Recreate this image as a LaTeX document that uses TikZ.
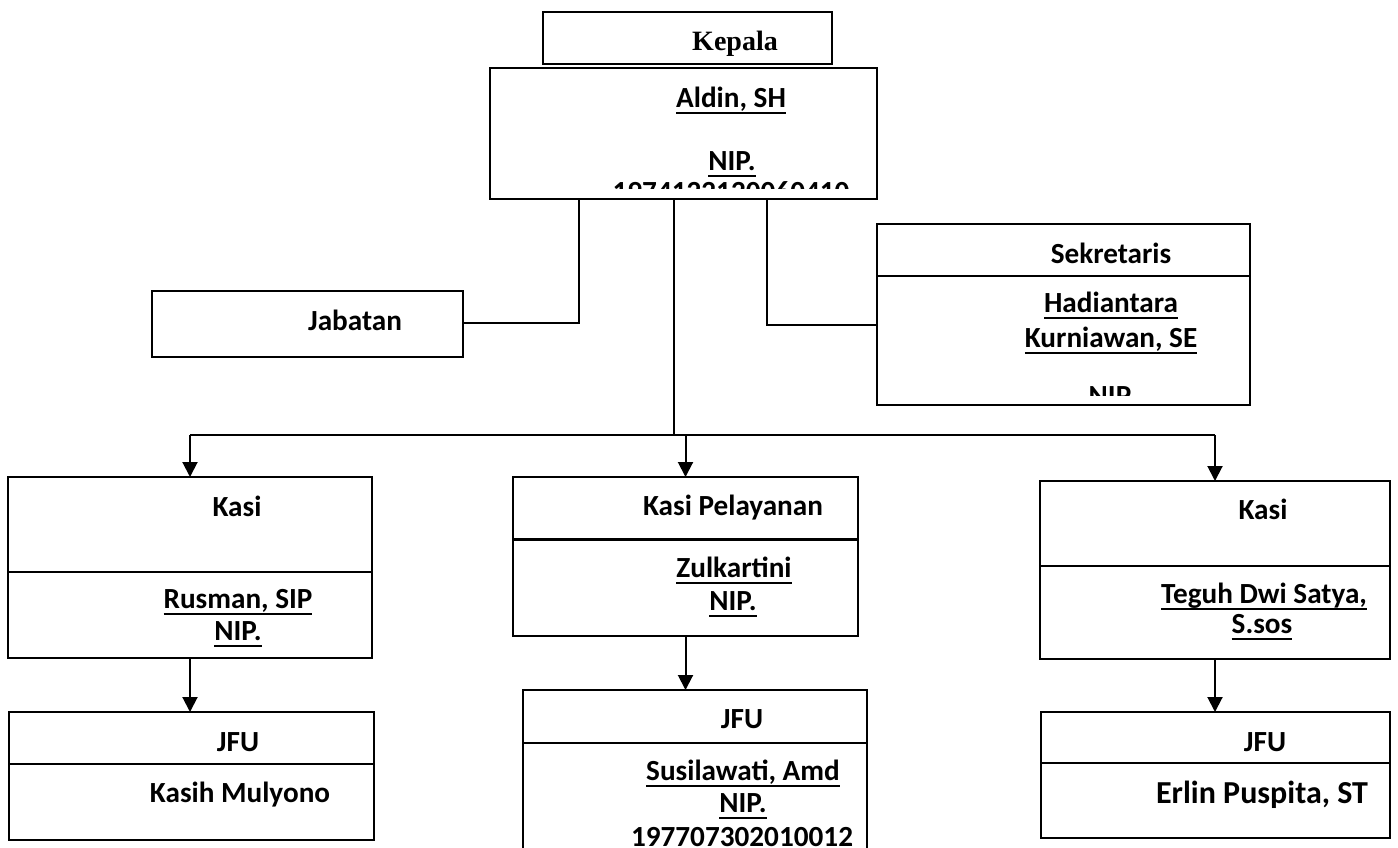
\documentclass[tikz,border=0pt]{standalone}
\usepackage{fontspec}
\setmainfont{Carlito}
\newfontfamily\timesfont{Liberation Serif}
\usetikzlibrary{arrows.meta}

% underline drawn under the name, like the word processor does
\newcommand\garisbawah[1]{\setbox0\hbox{#1}\rlap{\vrule height -2.4pt depth 3.6pt width \wd0}\box0}

% box from (x1,y1) to (x2,y2), in pixels of the page
\newcommand\kotakpx[5]{\node[kotak, minimum width={(#4-#2)*0.5pt}, minimum height={(#5-#3)*0.5pt}] (#1) at ({(#2+#4)/2},{(#3+#5)/2}) {};}

\tikzset{
  kotak/.style={draw, line width=1pt, inner sep=0pt, outer sep=0pt},
  teks/.style={font=\fontsize{14.6}{17}\selectfont\bfseries, inner sep=0pt, anchor=base},
  garis/.style={line width=1pt},
  panah/.style={line width=1pt, -{Triangle[width=7.5pt,length=7.5pt]}},
}

\begin{document}
\begin{tikzpicture}[x=0.5pt, y=-0.5pt]
		\useasboundingbox (0,0) rectangle (1398,847);
		\clip (0,0) rectangle (1398,847);

		% boxes
		\kotakpx{kepala}{543}{12}{832}{64}
		\kotakpx{aldin}{490}{68}{877}{199}
		\kotakpx{jabatan}{152}{291}{463}{357}
		\kotakpx{sek}{877}{224}{1250}{405}
		\kotakpx{kasiA}{8}{477}{372}{658}
		\kotakpx{kasiB}{513}{477}{858}{636}
		\kotakpx{kasiC}{1040}{481}{1390}{659}
		\kotakpx{jfuA}{9}{712}{374}{840}
		\kotakpx{jfuB}{523}{690}{867}{880}
		\kotakpx{jfuC}{1041}{712}{1390}{838}

		% dividers
		\draw[garis] (sek.west |- 0,276) -- (sek.east |- 0,276);
		\draw[garis] (kasiA.west |- 0,572) -- (kasiA.east |- 0,572);
		\draw[line width=1.5pt] (kasiB.west |- 0,539) -- (kasiB.east |- 0,539);
		\draw[garis] (kasiC.west |- 0,566) -- (kasiC.east |- 0,566);
		\draw[garis] (jfuA.west |- 0,764) -- (jfuA.east |- 0,764);
		\draw[garis] (jfuB.west |- 0,743) -- (jfuB.east |- 0,743);
		\draw[garis] (jfuC.west |- 0,763) -- (jfuC.east |- 0,763);

		% texts
		\node[teks, font=\fontsize{14}{17}\selectfont\timesfont\bfseries] (tKepala) at (735,50) {Kepala};
		\node[teks] (tAldin) at (731,107) {\garisbawah{Aldin, SH}};
		\node[teks] (tAldinNip) at (732,170) {\garisbawah{NIP.}};
		\begin{scope}
			\clip (490,68) rectangle (877,188);
			\node[teks] (tAldinNo) at (731,201) {1974122120060410};
		\end{scope}

		\node[teks] (tJabatan) at (355,330) {Jabatan};

		\node[teks] (tSek) at (1111,263) {Sekretaris};
		\node[teks] (tHadi) at (1111,312) {\garisbawah{Hadiantara}};
		\node[teks] (tKurni) at (1111,347) {\garisbawah{Kurniawan, SE}};
		\begin{scope}
			\clip (877,276) rectangle (1250,395);
			\node[teks] (tSekNip) at (1110,405) {NIP};
		\end{scope}

		\node[teks] (tKasiA) at (237,516) {Kasi};
		\node[teks] (tRusman) at (238,608) {\garisbawah{Rusman, SIP}};
		\node[teks] (tRusmanNip) at (238,640) {\garisbawah{NIP.}};

		\node[teks] (tKasiB) at (733,515) {Kasi Pelayanan};
		\node[teks] (tZul) at (734,577) {\garisbawah{Zulkartini}};
		\node[teks] (tZulNip) at (733,610) {\garisbawah{NIP.}};

		\node[teks] (tKasiC) at (1263,519) {Kasi};
		\node[teks] (tTeguh) at (1264,603) {\garisbawah{Teguh Dwi Satya,}};
		\node[teks] (tTeguhGelar) at (1262,633) {\garisbawah{S.sos}};

		\node[teks] (tJfuA) at (238,751) {JFU};
		\node[teks] (tKasih) at (240,802) {Kasih Mulyono};

		\node[teks] (tJfuB) at (742,728) {JFU};
		\node[teks] (tSusi) at (743,780) {\garisbawah{Susilawati, Amd}};
		\node[teks] (tSusiNip) at (743,812) {\garisbawah{NIP.}};
		\node[teks] (tSusiNo) at (742,846) {197707302010012};

		\node[teks] (tJfuC) at (1265,751) {JFU};
		\node[teks, font=\fontsize{16}{19}\selectfont\bfseries] (tErlin) at (1262,803) {Erlin Puspita, ST};

		% connectors
		\coordinate (cabKiri) at (579,323);
		\coordinate (cabKanan) at (767,325);
		\coordinate (bus) at (674,435);

		\draw[garis] (aldin.south -| cabKiri) |- (jabatan.east |- cabKiri);
		\draw[garis] (aldin.south -| cabKanan) |- (sek.west |- cabKanan);
		\draw[garis] (aldin.south -| bus) -- (bus);
		\draw[garis] (kasiA.north |- bus) -- (kasiC.north |- bus);

		\draw[panah] (kasiA.north |- bus) -- (kasiA.north);
		\draw[panah] (kasiB.north |- bus) -- (kasiB.north);
		\draw[panah] (kasiC.north |- bus) -- (kasiC.north);

		\draw[panah] (kasiA.south) -- (kasiA.south |- jfuA.north);
		\draw[panah] (kasiB.south) -- (kasiB.south |- jfuB.north);
		\draw[panah] (kasiC.south) -- (kasiC.south |- jfuC.north);
	\end{tikzpicture}
\end{document}
